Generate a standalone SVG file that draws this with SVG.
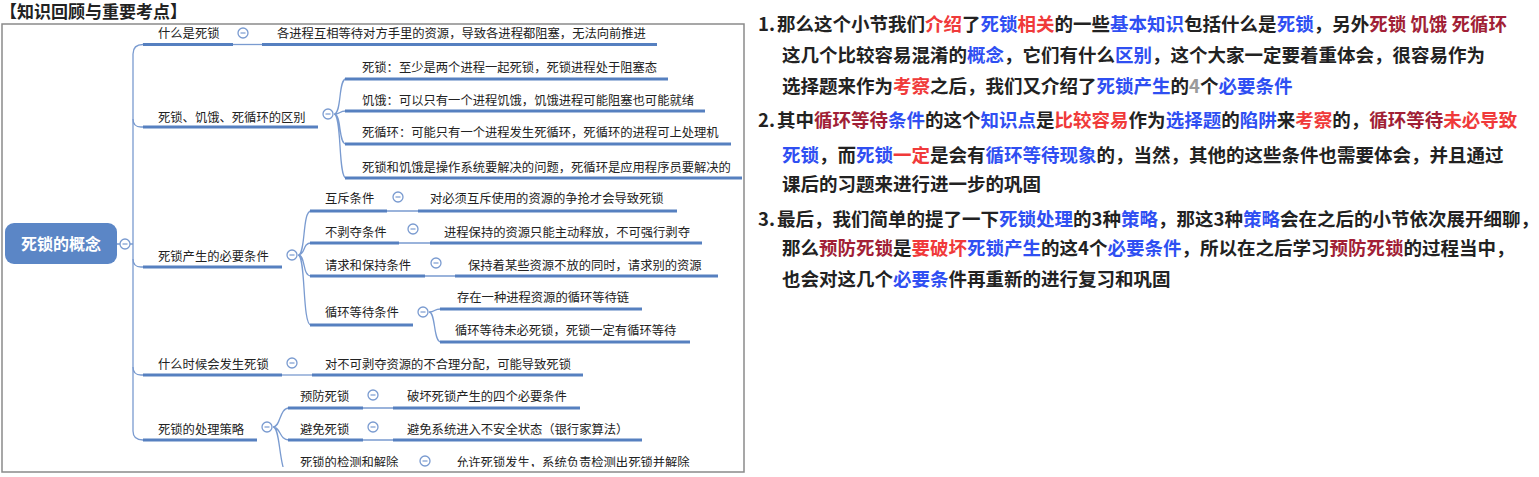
<svg xmlns="http://www.w3.org/2000/svg" width="1539" height="477" viewBox="0 0 1539 477">
<style>
.mt{font-family:"Noto Sans CJK SC","Noto Sans",sans-serif;font-size:12.3px;fill:#222;}
.ul{stroke:#5680c0;stroke-width:3;fill:none;stroke-linecap:butt;}
.cn{stroke:#7a9bd0;stroke-width:1.3;fill:none;}
.rt{font-family:"Noto Sans CJK SC","Noto Sans",sans-serif;font-size:18.5px;font-weight:700;fill:#222;}
.b{fill:#2f4ff2;}
.r{fill:#f03a3a;}
.m{fill:#a11f36;}
.g{fill:#9a9a9a;}
</style>
<defs>
<clipPath id="fc"><rect x="2" y="24" width="742" height="443"/></clipPath>
<g id="mc"><circle cx="0" cy="0" r="5" fill="#fff" stroke="#7a9bd0" stroke-width="1.3"/><line x1="-2.5" y1="0" x2="2.5" y2="0" stroke="#7a9bd0" stroke-width="1.2"/></g>
</defs>

<text x="0" y="18" font-family="'Noto Sans CJK SC',sans-serif" font-size="17" font-weight="700" fill="#222">【知识回顾与重要考点】</text>
<rect x="2" y="24" width="742" height="448" fill="none" stroke="#8a8a8a" stroke-width="1.5"/>

<g clip-path="url(#fc)">
<g id="connectors">
<path class="cn" d="M117,244 L120,244 M130,244 L133,244"/>
<path class="cn" d="M143,44.5 Q133,44.5 133,54 L133,431 Q133,440 143,440"/>
<path class="cn" d="M133,119 Q133,127 141,127 L143,127"/>
<path class="cn" d="M133,259 Q133,267 141,267 L143,267"/>
<path class="cn" d="M133,367 Q133,375 141,375 L143,375"/>
<path class="cn" d="M233,44.5 L262,44.5"/>
<path class="cn" d="M334,114 C342,114 338,79 346,79 M334,114 C342,114 338,111 346,111 M334,114 C342,114 338,144 346,144 M334,114 C342,114 338,178 346,178"/>
<path class="cn" d="M298,255 C306,255 302,211 311,211 M298,255 C306,255 302,243 311,243 M298,255 C306,255 302,276 311,276 M298,255 C306,255 302,325 311,325"/>
<path class="cn" d="M387,211 L418,211 M399,243 L430,243 M425,276 L455,276"/>
<path class="cn" d="M429,312 C436,312 433,309 441,309 M429,312 C436,312 433,342 441,342"/>
<path class="cn" d="M282,375 L312,375"/>
<path class="cn" d="M273,427 C281,427 279,408 289,408 M273,427 C281,427 279,440 289,440 M273,427 C281,427 278,470 289,478"/>
<path class="cn" d="M363,408 L393,408 M363,440 L393,440"/>
</g>

<g id="root">
<rect x="5" y="223" width="112" height="41" rx="9" fill="#5b86c6"/>
<text x="61" y="250" text-anchor="middle" font-family="'Noto Sans CJK SC',sans-serif" font-size="16" font-weight="700" fill="#fff">死锁的概念</text>
<use href="#mc" x="125" y="244"/>
</g>

<g id="n_what">
<text class="mt" x="158" y="37.5">什么是死锁</text>
<line class="ul" x1="143" y1="44.5" x2="233" y2="44.5"/>
<use href="#mc" x="243" y="33"/>
</g>
<g id="n_what_1">
<text class="mt" x="277" y="37.5">各进程互相等待对方手里的资源，导致各进程都阻塞，无法向前推进</text>
<line class="ul" x1="262" y1="44.5" x2="657" y2="44.5"/>
</g>

<g id="n_diff">
<text class="mt" x="158" y="121.5">死锁、饥饿、死循环的区别</text>
<line class="ul" x1="143" y1="127" x2="318" y2="127"/>
<use href="#mc" x="328" y="114"/>
</g>
<g id="n_diff_1">
<text class="mt" x="362" y="71.5">死锁：至少是两个进程一起死锁，死锁进程处于阻塞态</text>
<line class="ul" x1="345" y1="79" x2="668" y2="79"/>
</g>
<g id="n_diff_2">
<text class="mt" x="362" y="104.5">饥饿：可以只有一个进程饥饿，饥饿进程可能阻塞也可能就绪</text>
<line class="ul" x1="345" y1="111" x2="705" y2="111"/>
</g>
<g id="n_diff_3">
<text class="mt" x="362" y="136.5">死循环：可能只有一个进程发生死循环，死循环的进程可上处理机</text>
<line class="ul" x1="345" y1="144" x2="731" y2="144"/>
</g>
<g id="n_diff_4">
<text class="mt" x="362" y="171.5">死锁和饥饿是操作系统要解决的问题，死循环是应用程序员要解决的</text>
<line class="ul" x1="345" y1="178" x2="742" y2="178"/>
</g>

<g id="n_cond">
<text class="mt" x="158" y="260.5">死锁产生的必要条件</text>
<line class="ul" x1="143" y1="267" x2="282" y2="267"/>
<use href="#mc" x="292" y="255"/>
</g>
<g id="n_cond_1">
<text class="mt" x="325" y="202.5">互斥条件</text>
<line class="ul" x1="310" y1="211" x2="387" y2="211"/>
<use href="#mc" x="398" y="197"/>
</g>
<g id="n_cond_1a">
<text class="mt" x="430" y="202.5">对必须互斥使用的资源的争抢才会导致死锁</text>
<line class="ul" x1="418" y1="211" x2="677" y2="211"/>
</g>
<g id="n_cond_2">
<text class="mt" x="325" y="236.5">不剥夺条件</text>
<line class="ul" x1="310" y1="243" x2="399" y2="243"/>
<use href="#mc" x="413" y="229"/>
</g>
<g id="n_cond_2a">
<text class="mt" x="444" y="236.5">进程保持的资源只能主动释放，不可强行剥夺</text>
<line class="ul" x1="430" y1="243" x2="702" y2="243"/>
</g>
<g id="n_cond_3">
<text class="mt" x="325" y="269.5">请求和保持条件</text>
<line class="ul" x1="310" y1="276" x2="425" y2="276"/>
<use href="#mc" x="436" y="263"/>
</g>
<g id="n_cond_3a">
<text class="mt" x="468" y="269.5">保持着某些资源不放的同时，请求别的资源</text>
<line class="ul" x1="455" y1="276" x2="718" y2="276"/>
</g>
<g id="n_cond_4">
<text class="mt" x="325" y="316.5">循环等待条件</text>
<line class="ul" x1="310" y1="325" x2="413" y2="325"/>
<use href="#mc" x="423" y="312"/>
</g>
<g id="n_cond_4a">
<text class="mt" x="457" y="301.5">存在一种进程资源的循环等待链</text>
<line class="ul" x1="440" y1="309" x2="642" y2="309"/>
</g>
<g id="n_cond_4b">
<text class="mt" x="455" y="334.5">循环等待未必死锁，死锁一定有循环等待</text>
<line class="ul" x1="440" y1="342" x2="690" y2="342"/>
</g>

<g id="n_when">
<text class="mt" x="158" y="368.5">什么时候会发生死锁</text>
<line class="ul" x1="143" y1="375" x2="282" y2="375"/>
<use href="#mc" x="292" y="363"/>
</g>
<g id="n_when_1">
<text class="mt" x="325" y="368.5">对不可剥夺资源的不合理分配，可能导致死锁</text>
<line class="ul" x1="312" y1="375" x2="583" y2="375"/>
</g>

<g id="n_strat">
<text class="mt" x="158" y="433.5">死锁的处理策略</text>
<line class="ul" x1="143" y1="440" x2="257" y2="440"/>
<use href="#mc" x="267" y="427"/>
</g>
<g id="n_strat_1">
<text class="mt" x="300" y="400.5">预防死锁</text>
<line class="ul" x1="288" y1="408" x2="363" y2="408"/>
<use href="#mc" x="373" y="395"/>
</g>
<g id="n_strat_1a">
<text class="mt" x="407" y="400.5">破坏死锁产生的四个必要条件</text>
<line class="ul" x1="393" y1="408" x2="580" y2="408"/>
</g>
<g id="n_strat_2">
<text class="mt" x="300" y="433.5">避免死锁</text>
<line class="ul" x1="288" y1="440" x2="363" y2="440"/>
<use href="#mc" x="373" y="427"/>
</g>
<g id="n_strat_2a">
<text class="mt" x="407" y="433.5">避免系统进入不安全状态（银行家算法）</text>
<line class="ul" x1="393" y1="440" x2="642" y2="440"/>
</g>
<g id="n_strat_3">
<text class="mt" x="300" y="466.5">死锁的检测和解除</text>
<use href="#mc" x="425" y="461"/>
</g>
<g id="n_strat_3a">
<text class="mt" x="456" y="466.5">允许死锁发生，系统负责检测出死锁并解除</text>
</g>
</g>

<g id="notes">
<text class="rt" y="30.5"><tspan x="758">1.</tspan><tspan x="777">那么这个小节我们</tspan><tspan class="r">介绍</tspan>了<tspan class="b">死锁</tspan><tspan class="r">相关</tspan>的一些<tspan class="b">基本知识</tspan>包括什么是<tspan class="b">死锁</tspan>，另外<tspan class="m">死锁 饥饿 死循环</tspan></text>
<text class="rt" y="61.5"><tspan x="782">这几个比较容易混淆的</tspan><tspan class="b">概念</tspan>，它们有什么<tspan class="b">区别</tspan>，这个大家一定要着重体会，很容易作为</text>
<text class="rt" y="92.5"><tspan x="782">选择题来作为</tspan><tspan class="r">考察</tspan>之后，我们又介绍了<tspan class="b">死锁产生</tspan>的<tspan class="g">4</tspan>个<tspan class="b">必要条件</tspan></text>
<text class="rt" y="126.5"><tspan x="758">2.</tspan><tspan x="777">其中</tspan><tspan class="m">循环等待</tspan><tspan class="b">条件</tspan>的这个<tspan class="b">知识点</tspan>是<tspan class="r">比较容易</tspan>作为<tspan class="b">选择题</tspan>的<tspan class="b">陷阱</tspan>来<tspan class="r">考察</tspan>的，<tspan class="m">循环等待</tspan><tspan class="r">未必导致</tspan></text>
<text class="rt" y="161.5"><tspan x="782" class="b">死锁</tspan>，而<tspan class="b">死锁</tspan><tspan class="r">一定</tspan>是会有<tspan class="b">循环等待现象</tspan>的，当然，其他的这些条件也需要体会，并且通过</text>
<text class="rt" y="190.5"><tspan x="782">课后的习题来进行进一步的巩固</tspan></text>
<text class="rt" y="225.5"><tspan x="758">3.</tspan><tspan x="777">最后，我们简单的提了一下</tspan><tspan class="b">死锁处理</tspan>的3种<tspan class="b">策略</tspan>，那这3种<tspan class="b">策略</tspan>会在之后的小节依次展开细聊，</text>
<text class="rt" y="254.5"><tspan x="782">那么</tspan><tspan class="m">预防死锁</tspan>是<tspan class="r">要破坏</tspan><tspan class="b">死锁产生</tspan>的这4个<tspan class="b">必要条件</tspan>，所以在之后学习<tspan class="m">预防死锁</tspan>的过程当中，</text>
<text class="rt" y="285.5"><tspan x="782">也会对这几个</tspan><tspan class="b">必要条</tspan>件再重新的进行复习和巩固</text>
</g>
</svg>
